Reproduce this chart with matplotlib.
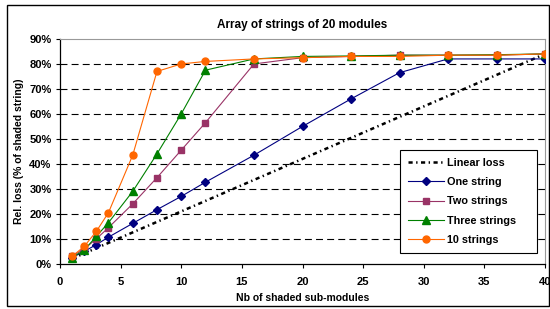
import matplotlib
matplotlib.use("Agg")
from matplotlib import pyplot as plt
from matplotlib.patches import Rectangle

plt.rcParams['font.family'] = ['Liberation Sans', 'DejaVu Sans']
plt.rcParams['font.weight'] = 'bold'
plt.rcParams['lines.scale_dashes'] = False

# data
x_lin = [1, 40]
y_lin = [2.1, 84.0]

x_pts = [1, 2, 3, 4, 6, 8, 10, 12, 16, 20, 24, 28, 32, 36, 40]
one_string = [2.5, 5.0, 7.7, 10.7, 16.2, 21.7, 27.0, 32.7, 43.5, 55.0, 66.0, 76.5, 82.0, 82.0, 82.0]
two_strings = [3.0, 6.0, 10.0, 14.5, 24.0, 34.5, 45.5, 56.5, 80.0, 82.5, 83.0, 83.5, 83.5, 83.5, 84.0]
three_strings = [2.5, 5.5, 11.0, 16.5, 29.0, 44.0, 60.0, 77.5, 82.0, 83.0, 83.2, 83.5, 83.5, 83.7, 84.0]
ten_strings = [3.0, 7.0, 13.0, 20.5, 43.5, 77.0, 80.0, 81.0, 82.0, 82.5, 83.0, 83.0, 83.5, 83.5, 84.0]

y_ticks = [0, 10, 20, 30, 40, 50, 60, 70, 80, 90]
x_ticks = [0, 5, 10, 15, 20, 25, 30, 35, 40]

fig = plt.figure(figsize=(5.5, 3.09), dpi=100)
ax = fig.add_axes([0.109, 0.146, 0.882, 0.728])

# gridlines
for v in y_ticks[1:-1]:
    ax.axhline(v, color='black', lw=0.8, dashes=(5, 3), zorder=1)

ax.plot(x_lin, y_lin, color='black', lw=1.8, dashes=(3, 2.5, 1, 2.5), label='Linear loss', zorder=2)
ax.plot(x_pts, one_string, color='#000080', lw=0.8, marker='D', ms=4.2, label='One string', zorder=3)
ax.plot(x_pts, two_strings, color='#993366', lw=0.8, marker='s', ms=4.6, label='Two strings', zorder=4)
ax.plot(x_pts, three_strings, color='#008000', lw=0.8, marker='^', ms=5.2, label='Three strings', zorder=5)
ax.plot(x_pts, ten_strings, color='#FF6600', lw=0.8, marker='o', ms=5.0, label='10 strings', zorder=6)

ax.set_xlim(0, 40)
ax.set_ylim(0, 90)
ax.set_xticks(x_ticks)
ax.set_yticks(y_ticks)
ax.set_yticklabels([f'{v}%' for v in y_ticks])
ax.tick_params(direction='out', length=3, width=0.8, labelsize=8)
ax.tick_params(axis='x', pad=6.5)
ax.tick_params(axis='y', pad=3)

ax.spines['left'].set_linewidth(0.9)
ax.spines['bottom'].set_linewidth(0.9)
ax.spines['top'].set_color('#999999')
ax.spines['right'].set_color('#999999')

ax.set_title('Array of strings of 20 modules', fontsize=8.5, fontweight='bold', pad=8)
ax.set_xlabel('Nb of shaded sub-modules', fontsize=7.5, fontweight='bold', labelpad=4)
ax.set_ylabel('Rel. loss (% of shaded string)', fontsize=7.5, fontweight='bold', labelpad=4)

leg = ax.legend(loc='upper left', bbox_to_anchor=(0.69, 0.031, 0.305, 0.50), mode='expand',
                fontsize=7.8, frameon=True, fancybox=False, framealpha=1, edgecolor='black',
                handlelength=3.3, labelspacing=0.85, borderpad=0.75, handletextpad=0.3)
leg.get_frame().set_linewidth(0.8)

# outer chart border
fig.patches.append(Rectangle((7 / 550, 3 / 309), 541.5 / 550, 301 / 309, transform=fig.transFigure,
                             fill=False, edgecolor='black', lw=1.0))

fig.savefig('out.png', dpi=100)
